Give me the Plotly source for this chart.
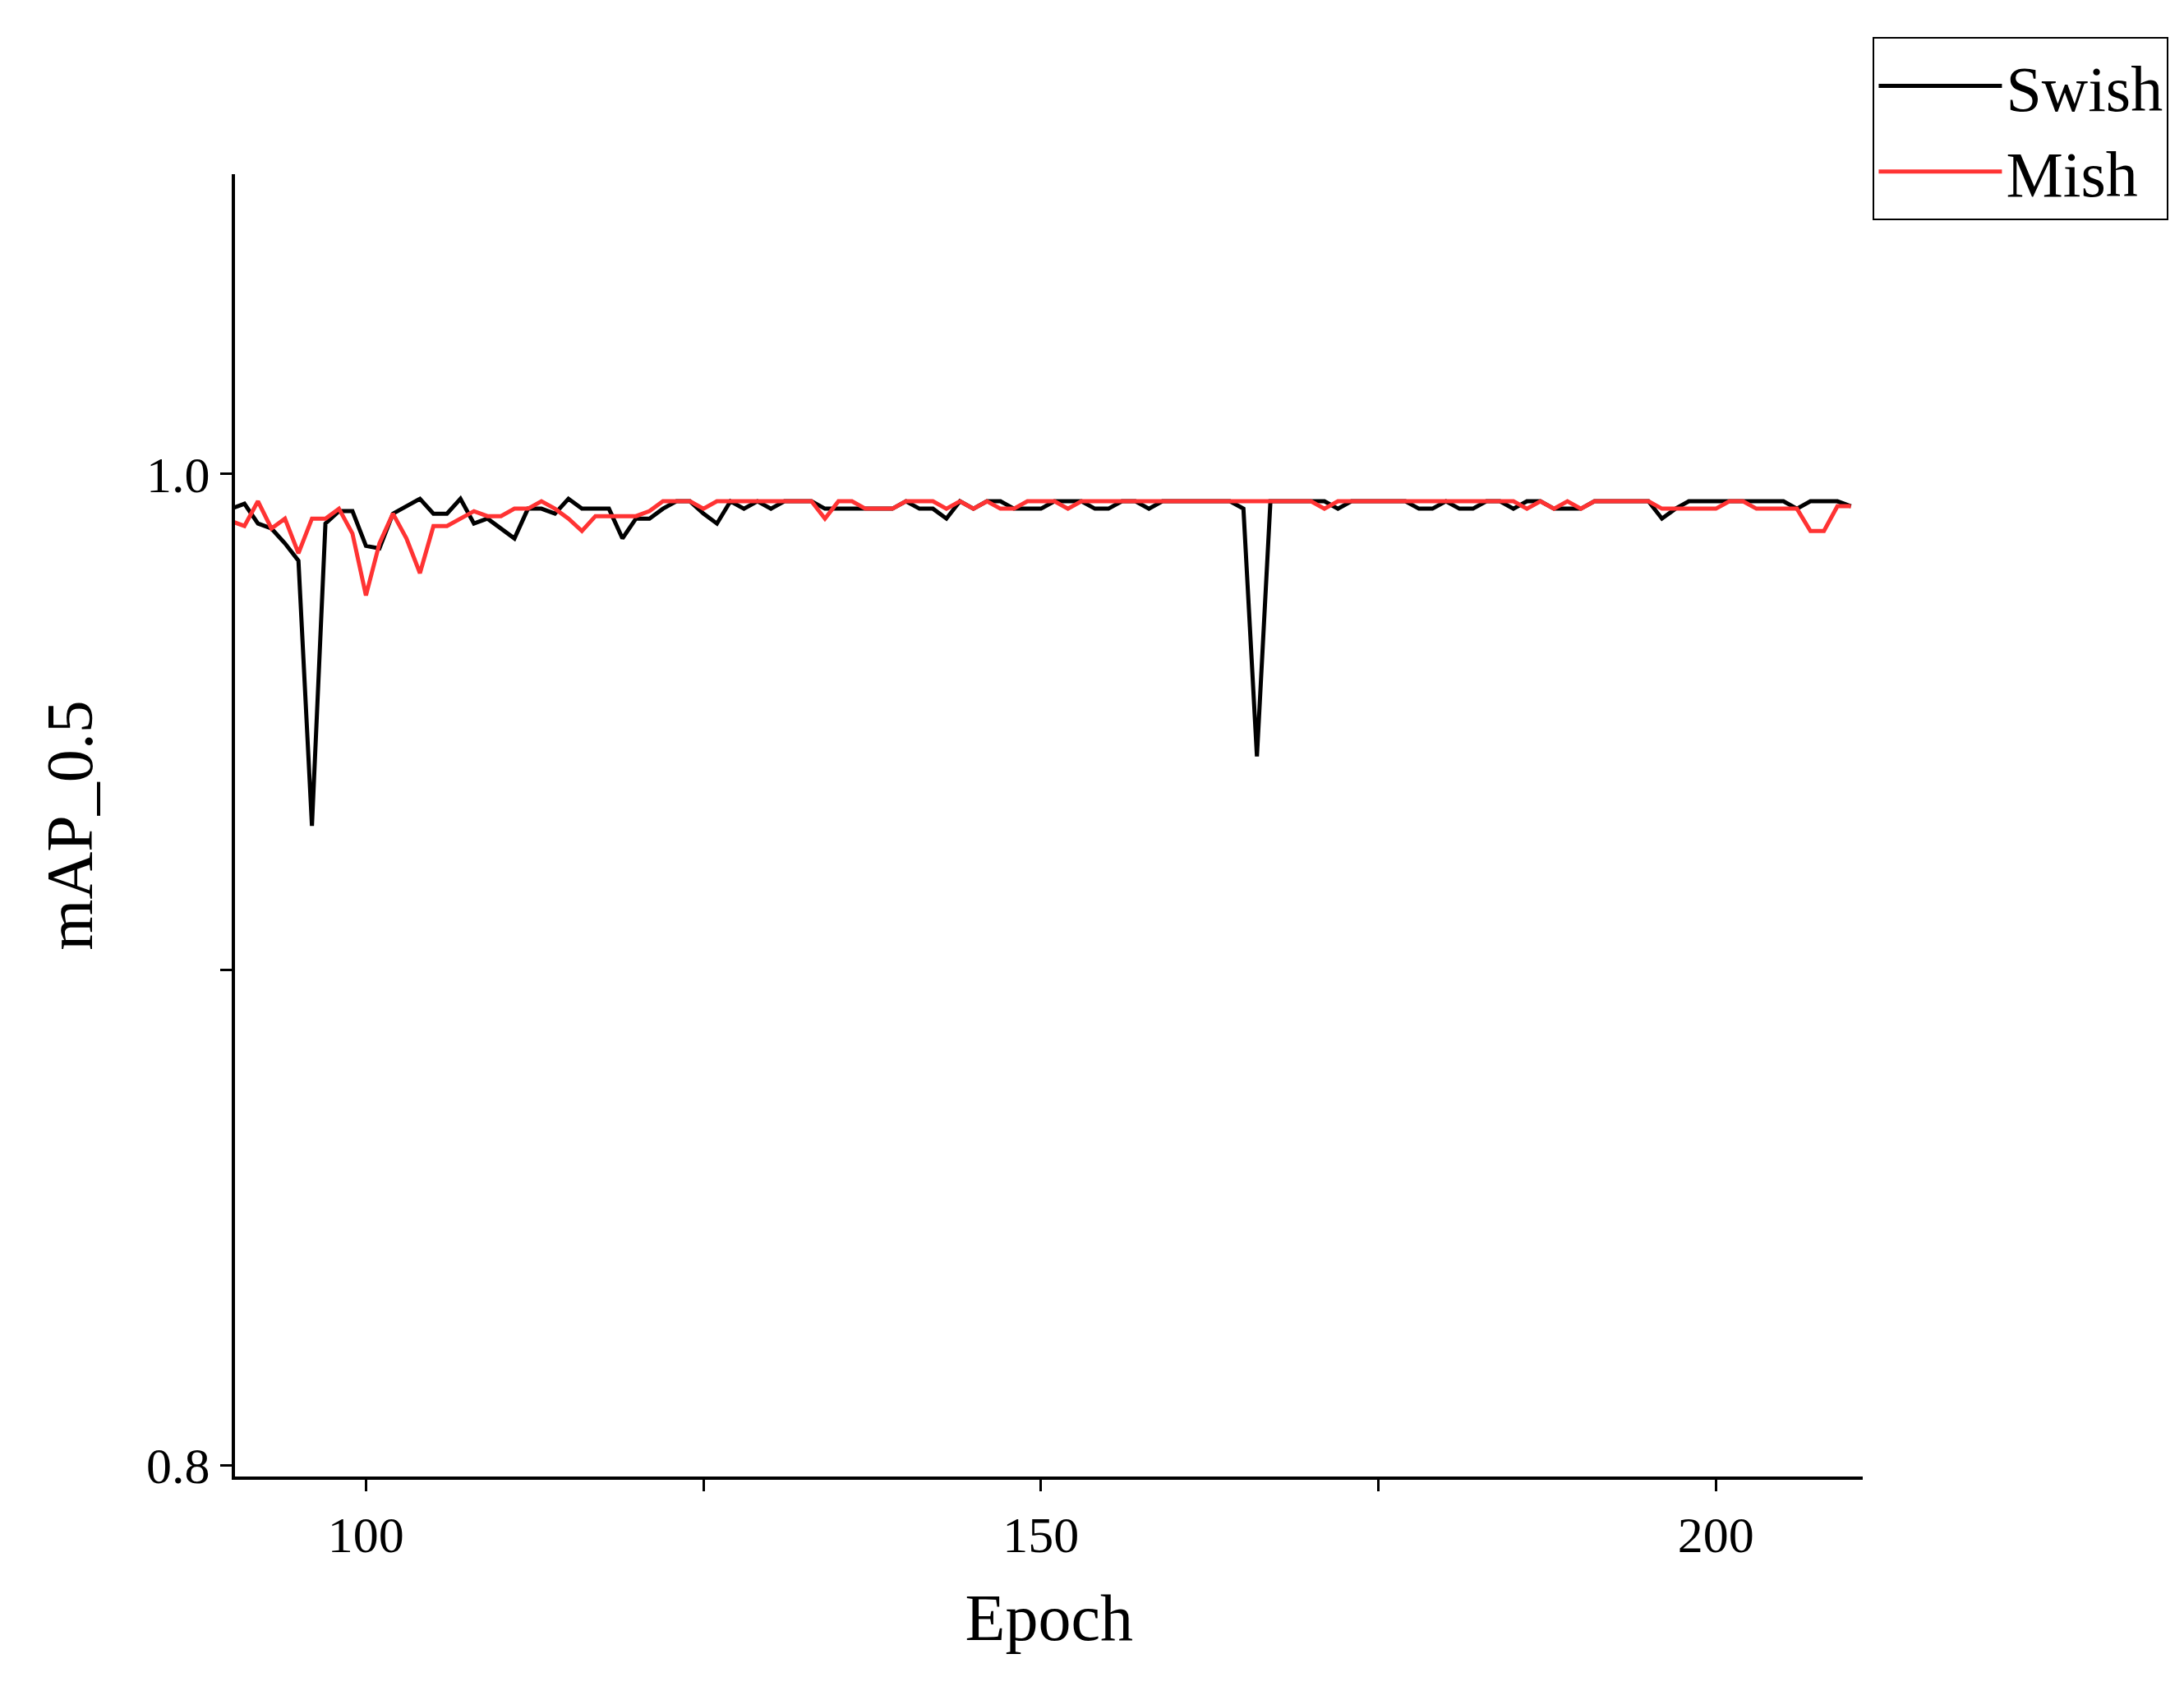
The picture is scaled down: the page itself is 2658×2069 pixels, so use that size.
import plotly.graph_objects as go

epochs = list(range(90, 211))

swish = [
    0.993, 0.994, 0.990, 0.989, 0.986, 0.9825, 0.929, 0.990, 0.9925, 0.9925,   # 90-99
    0.9855, 0.985, 0.992, 0.9935, 0.995, 0.992, 0.992, 0.995, 0.990, 0.991,    # 100-109
    0.989, 0.987, 0.993, 0.993, 0.992, 0.995, 0.993, 0.993, 0.993, 0.987,      # 110-119
    0.991, 0.991, 0.993, 0.9945, 0.9945, 0.992, 0.990, 0.9945, 0.993, 0.9945,  # 120-129
    0.993, 0.9945, 0.9945, 0.9945, 0.993, 0.993, 0.993, 0.993, 0.993, 0.993,   # 130-139
    0.9945, 0.993, 0.993, 0.991, 0.9945, 0.993, 0.9945, 0.9945, 0.993, 0.993,  # 140-149
    0.993, 0.9945, 0.9945, 0.9945, 0.993, 0.993, 0.9945, 0.9945, 0.993, 0.9945, # 150-159
    0.9945, 0.9945, 0.9945, 0.9945, 0.9945, 0.993, 0.943, 0.9945, 0.9945, 0.9945, # 160-169
    0.9945, 0.9945, 0.993, 0.9945, 0.9945, 0.9945, 0.9945, 0.9945, 0.993, 0.993, # 170-179
    0.9945, 0.993, 0.993, 0.9945, 0.9945, 0.993, 0.9945, 0.9945, 0.993, 0.993,  # 180-189
    0.993, 0.9945, 0.9945, 0.9945, 0.9945, 0.9945, 0.991, 0.993, 0.9945, 0.9945, # 190-199
    0.9945, 0.9945, 0.9945, 0.9945, 0.9945, 0.9945, 0.993, 0.9945, 0.9945, 0.9945, # 200-209
    0.9935,                                                                      # 210
]

mish = [
    0.9905, 0.9895, 0.9945, 0.989, 0.991, 0.984, 0.991, 0.991, 0.993, 0.988,   # 90-99
    0.9755, 0.986, 0.992, 0.987, 0.980, 0.9895, 0.9895, 0.991, 0.9925, 0.9915, # 100-109
    0.9915, 0.993, 0.993, 0.9945, 0.993, 0.991, 0.9885, 0.9915, 0.9915, 0.9915, # 110-119
    0.9915, 0.9925, 0.9945, 0.9945, 0.9945, 0.993, 0.9945, 0.9945, 0.9945, 0.9945, # 120-129
    0.9945, 0.9945, 0.9945, 0.9945, 0.991, 0.9945, 0.9945, 0.993, 0.993, 0.993, # 130-139
    0.9945, 0.9945, 0.9945, 0.993, 0.9945, 0.993, 0.9945, 0.993, 0.993, 0.9945, # 140-149
    0.9945, 0.9945, 0.993, 0.9945, 0.9945, 0.9945, 0.9945, 0.9945, 0.9945, 0.9945, # 150-159
    0.9945, 0.9945, 0.9945, 0.9945, 0.9945, 0.9945, 0.9945, 0.9945, 0.9945, 0.9945, # 160-169
    0.9945, 0.993, 0.9945, 0.9945, 0.9945, 0.9945, 0.9945, 0.9945, 0.9945, 0.9945, # 170-179
    0.9945, 0.9945, 0.9945, 0.9945, 0.9945, 0.9945, 0.993, 0.9945, 0.993, 0.9945, # 180-189
    0.993, 0.9945, 0.9945, 0.9945, 0.9945, 0.9945, 0.993, 0.993, 0.993, 0.993,  # 190-199
    0.993, 0.9945, 0.9945, 0.993, 0.993, 0.993, 0.993, 0.9885, 0.9885, 0.9935,  # 200-209
    0.9935,                                                                      # 210
]

font = "Liberation Serif"

fig = go.Figure()
fig.add_trace(go.Scatter(x=epochs, y=swish, mode="lines", name="Swish",
                         line=dict(color="black", width=5)))
fig.add_trace(go.Scatter(x=epochs, y=mish, mode="lines", name="Mish",
                         line=dict(color="#ff3333", width=5)))

fig.update_layout(
    width=2658, height=2069,
    paper_bgcolor="white", plot_bgcolor="white",
    margin=dict(l=278, r=68, t=204, b=280),
    font=dict(family=font, size=62, color="black"),
    showlegend=True,
    legend=dict(xref="container", yref="container", x=0.99, y=0.982,
                xanchor="right", yanchor="top",
                bordercolor="black", borderwidth=2, bgcolor="white",
                font=dict(size=78), itemwidth=150),
)
fig.update_xaxes(
    range=[90.3, 210.9], showgrid=False, zeroline=False,
    showline=True, linecolor="black", linewidth=4,
    tickvals=[100, 125, 150, 175, 200], ticktext=["100", "", "150", "", "200"],
    ticks="outside", ticklen=14, tickwidth=3, tickcolor="black",
    title=dict(text="Epoch", font=dict(size=80), standoff=40),
)
fig.update_yaxes(
    range=[0.7977, 1.0605], showgrid=False, zeroline=False,
    showline=True, linecolor="black", linewidth=4,
    tickvals=[0.8, 0.9, 1.0], ticktext=["0.8", "", "1.0"],
    ticks="outside", ticklen=14, tickwidth=3, tickcolor="black",
    title=dict(text="mAP_0.5", font=dict(size=80), standoff=40),
)

fig.write_html("out.html")
